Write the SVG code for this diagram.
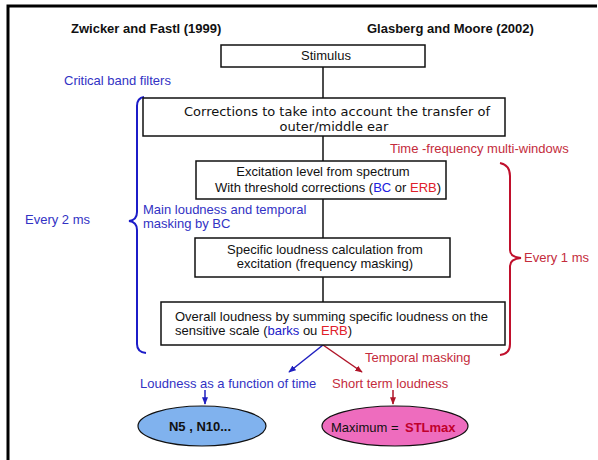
<svg xmlns="http://www.w3.org/2000/svg" width="598" height="460" viewBox="0 0 598 460">
<defs>
<style>
.t{font-family:"Liberation Sans",Arial,sans-serif;font-size:13px;fill:#111}
.v{font-family:"DejaVu Sans",Verdana,sans-serif;font-size:13px;fill:#111}
.h{font-family:"Liberation Sans",Arial,sans-serif;font-size:13px;font-weight:bold;fill:#111}
.b{fill:#3232c4}
.r{fill:#c42c3c}
.box{fill:#fff;stroke:#111;stroke-width:1.5}
.ln{stroke:#111;stroke-width:1.5;fill:none}
</style>
<marker id="ab" viewBox="0 0 10 10" refX="9" refY="5" markerWidth="5" markerHeight="5" orient="auto-start-reverse"><path d="M0,1 L10,5 L0,9 z" fill="#1f1fc0"/></marker>
<marker id="ar" viewBox="0 0 10 10" refX="9" refY="5" markerWidth="5" markerHeight="5" orient="auto-start-reverse"><path d="M0,1 L10,5 L0,9 z" fill="#b01428"/></marker>
</defs>
<rect x="0" y="0" width="598" height="460" fill="#fff"/>
<path d="M8,460 V6 H597" fill="none" stroke="#000" stroke-width="3"/>

<text class="h" x="71" y="33">Zwicker and Fastl (1999)</text>
<text class="h" x="367" y="33">Glasberg and Moore (2002)</text>

<g id="connectors">
<path class="ln" d="M323,67 V98"/>
<path class="ln" d="M323,136 V161"/>
<path class="ln" d="M323,199 V238"/>
<path class="ln" d="M323,277 V302"/>
<path d="M323,345 L289,372" stroke="#1f1fc0" stroke-width="1.5" fill="none" marker-end="url(#ab)"/>
<path d="M323,345 L362,372" stroke="#b01428" stroke-width="1.5" fill="none" marker-end="url(#ar)"/>
<path d="M205,390 V404" stroke="#1f1fc0" stroke-width="1.5" fill="none" marker-end="url(#ab)"/>
<path d="M393,390 V404" stroke="#b01428" stroke-width="1.5" fill="none" marker-end="url(#ar)"/>
<path d="M144,97 Q137,98 137,106 V212 Q137,220 129,221 Q137,222 137,230 V344 Q137,352 146,353" stroke="#1c1cc8" stroke-width="2" fill="none"/>
<path d="M500,163 Q510,165 510,176 V250 Q510,257 521,258 Q510,259 510,266 V344 Q510,354 500,355" stroke="#c0102c" stroke-width="2" fill="none"/>
</g>

<g id="stimulus">
<rect class="box" x="221" y="45" width="204" height="22"/>
<text class="t" x="326" y="60" text-anchor="middle">Stimulus</text>
</g>

<g id="critical-band-label">
<text class="t b" x="64" y="85">Critical band filters</text>
</g>

<g id="corrections">
<rect class="box" x="143" y="98" width="362" height="38"/>
<text class="v" x="337" y="116" text-anchor="middle">Corrections to take into account the transfer of</text>
<text class="v" x="334" y="131" text-anchor="middle">outer/middle ear</text>
</g>

<g id="tf-label">
<text class="t r" x="390" y="153">Time -frequency multi-windows</text>
</g>

<g id="excitation">
<rect class="box" x="196" y="161" width="250" height="38"/>
<text class="t" x="323" y="176" text-anchor="middle">Excitation level from spectrum</text>
<text class="t" x="328" y="192" text-anchor="middle">With threshold corrections (<tspan fill="#2020e0">BC</tspan> or <tspan fill="#e0202a">ERB</tspan>)</text>
</g>

<g id="main-loudness-label">
<text class="t b" x="143" y="214">Main loudness and temporal</text>
<text class="t b" x="143" y="228">masking by BC</text>
</g>

<g id="every2">
<text class="t b" x="25" y="224">Every 2 ms</text>
</g>

<g id="specific">
<rect class="box" x="195" y="238" width="255" height="39"/>
<text class="t" x="325" y="254" text-anchor="middle">Specific loudness calculation from</text>
<text class="t" x="325" y="268" text-anchor="middle">excitation (frequency masking)</text>
</g>

<g id="every1">
<text class="t r" x="524" y="262">Every 1 ms</text>
</g>

<g id="overall">
<rect class="box" x="161" y="302" width="344" height="43"/>
<text class="t" x="175" y="321">Overall loudness by summing specific loudness on the</text>
<text class="t" x="175" y="335">sensitive scale (<tspan fill="#2020c8">barks</tspan> ou <tspan fill="#e0202a">ERB</tspan>)</text>
</g>

<g id="temporal-masking">
<text class="t r" x="365" y="362">Temporal masking</text>
</g>

<g id="loudness-time">
<text class="t b" x="140" y="388">Loudness as a function of time</text>
</g>

<g id="short-term">
<text class="t r" x="332" y="388">Short term loudness</text>
</g>

<g id="n5">
<ellipse cx="202" cy="426" rx="64" ry="20" fill="#80b2ee" stroke="#111" stroke-width="1.2"/>
<text class="t" x="200" y="431" text-anchor="middle" font-weight="bold" fill="#1a2aa0">N5 , N10...</text>
</g>

<g id="stlmax">
<ellipse cx="395" cy="426" rx="73" ry="20" fill="#ee6cbe" stroke="#111" stroke-width="1.2"/>
<text class="t" x="331" y="432" fill="#3a1838">Maximum = <tspan x="405" font-weight="bold" fill="#c0002c">STLmax</tspan></text>
</g>
</svg>
